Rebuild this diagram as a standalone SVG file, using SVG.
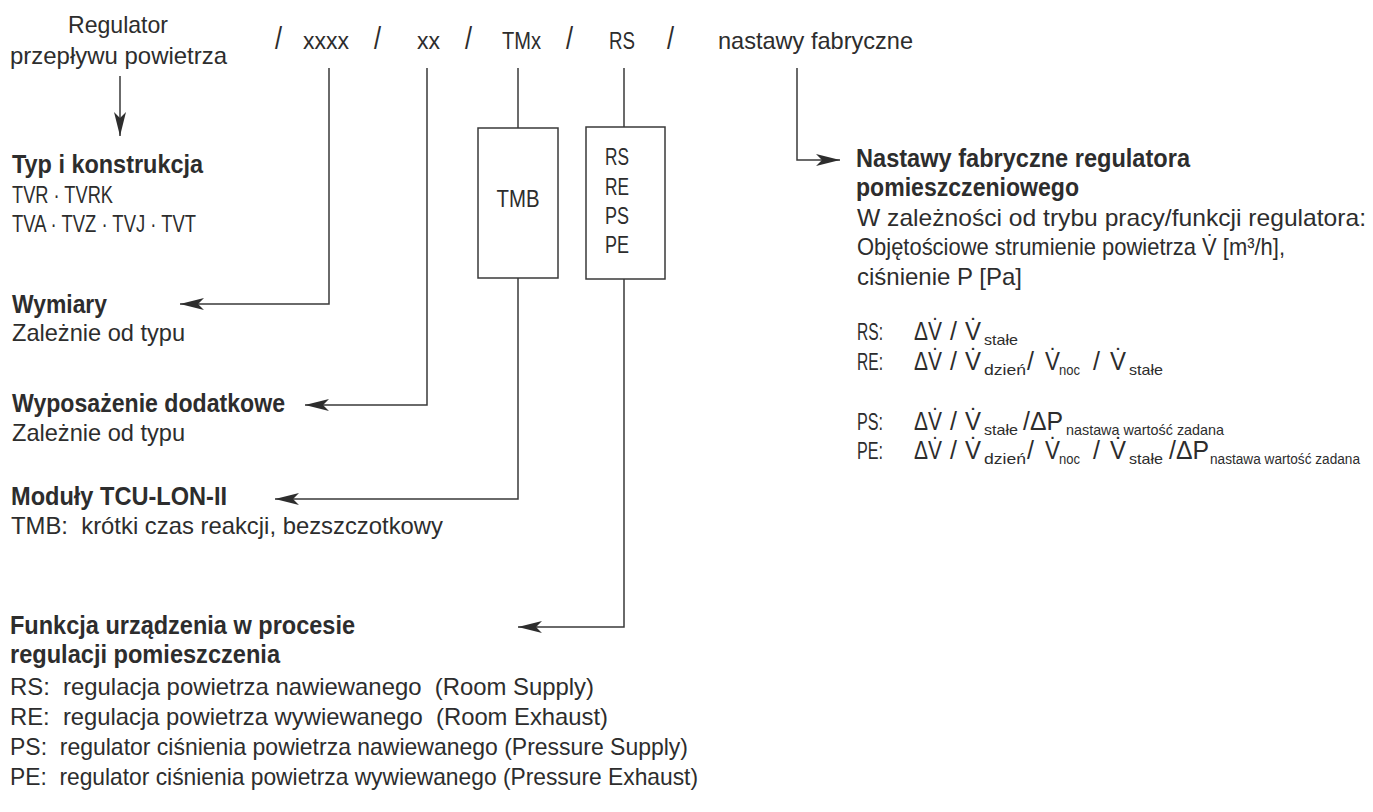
<svg xmlns="http://www.w3.org/2000/svg" width="1373" height="812" viewBox="0 0 1373 812">
  <defs>
    <style>
      .t { font-family: "Liberation Sans", Arial, "DejaVu Sans", sans-serif; font-size: 24px; fill: #2d2d2d; white-space: pre; }
      .b { font-weight: bold; font-size: 25px; }
      .f { font-size: 25px; }
      .s { font-size: 15px; }
      .xs { font-size: 14px; }
      .sl { font-size: 22px; }
      .box { fill: #ffffff; stroke: #3a3a3a; stroke-width: 1.5; }
      .ln { fill: none; stroke: #3a3a3a; stroke-width: 1.5; }
    </style>
    <marker id="arr" viewBox="-25 -7 26 14" refX="0" refY="0" markerWidth="26" markerHeight="14" orient="auto" markerUnits="userSpaceOnUse">
      <path d="M0,0 L-24,-6 L-18,0 L-24,6 Z" fill="#2d2d2d"/>
    </marker>
  </defs>
  <rect width="1373" height="812" fill="#ffffff"/>

  <!-- code header row -->
  <g id="header">
    <text class="t" x="118" y="33" text-anchor="middle" textLength="100" lengthAdjust="spacingAndGlyphs">Regulator</text>
    <text class="t" x="10" y="64" textLength="217" lengthAdjust="spacingAndGlyphs">przepływu powietrza</text>
    <text class="t sl" transform="translate(275,49) scale(1.15,1.45)">/</text>
    <text class="t" x="303" y="49" textLength="46" lengthAdjust="spacingAndGlyphs">xxxx</text>
    <text class="t sl" transform="translate(374,49) scale(1.15,1.45)">/</text>
    <text class="t" x="417" y="49" textLength="23" lengthAdjust="spacingAndGlyphs">xx</text>
    <text class="t sl" transform="translate(465,49) scale(1.15,1.45)">/</text>
    <text class="t" x="502" y="49" textLength="39" lengthAdjust="spacingAndGlyphs">TMx</text>
    <text class="t sl" transform="translate(566,49) scale(1.15,1.45)">/</text>
    <text class="t" x="609" y="49" textLength="26" lengthAdjust="spacingAndGlyphs">RS</text>
    <text class="t sl" transform="translate(667,49) scale(1.15,1.45)">/</text>
    <text class="t" x="718" y="49" textLength="195" lengthAdjust="spacingAndGlyphs">nastawy fabryczne</text>
  </g>

  <!-- module boxes -->
  <g id="box-tmb">
    <rect class="box" x="478" y="128" width="80" height="150"/>
    <text class="t" x="518" y="207" text-anchor="middle" textLength="43" lengthAdjust="spacingAndGlyphs">TMB</text>
  </g>
  <g id="box-rs">
    <rect class="box" x="586" y="127" width="79" height="152"/>
    <text class="t" x="605" y="165" textLength="24" lengthAdjust="spacingAndGlyphs">RS</text>
    <text class="t" x="605" y="195" textLength="24" lengthAdjust="spacingAndGlyphs">RE</text>
    <text class="t" x="605" y="224" textLength="24" lengthAdjust="spacingAndGlyphs">PS</text>
    <text class="t" x="605" y="253" textLength="24" lengthAdjust="spacingAndGlyphs">PE</text>
  </g>

  <!-- connectors -->
  <g id="connectors">
    <path class="ln" d="M120,76 V136" marker-end="url(#arr)"/>
    <path class="ln" d="M329,68 V304 H180" marker-end="url(#arr)"/>
    <path class="ln" d="M427,68 V405 H305" marker-end="url(#arr)"/>
    <path class="ln" d="M518,68 V128"/>
    <path class="ln" d="M518,278 V499 H275" marker-end="url(#arr)"/>
    <path class="ln" d="M624,68 V127"/>
    <path class="ln" d="M624,279 V627 H518" marker-end="url(#arr)"/>
    <path class="ln" d="M797,68 V160 H840" marker-end="url(#arr)"/>
  </g>

  <!-- type and construction -->
  <g id="typ">
    <text class="t b" x="12" y="173" textLength="191" lengthAdjust="spacingAndGlyphs">Typ i konstrukcja</text>
    <text class="t" x="12" y="203" textLength="101" lengthAdjust="spacingAndGlyphs">TVR · TVRK</text>
    <text class="t" x="12" y="232" textLength="184" lengthAdjust="spacingAndGlyphs">TVA · TVZ · TVJ · TVT</text>
  </g>

  <g id="wymiary">
    <text class="t b" x="12" y="313" textLength="95" lengthAdjust="spacingAndGlyphs">Wymiary</text>
    <text class="t" x="12" y="341" textLength="173" lengthAdjust="spacingAndGlyphs">Zależnie od typu</text>
  </g>

  <g id="wyposazenie">
    <text class="t b" x="12" y="412" textLength="273" lengthAdjust="spacingAndGlyphs">Wyposażenie dodatkowe</text>
    <text class="t" x="12" y="441" textLength="173" lengthAdjust="spacingAndGlyphs">Zależnie od typu</text>
  </g>

  <g id="moduly">
    <text class="t b" x="11" y="505" textLength="216" lengthAdjust="spacingAndGlyphs">Moduły TCU-LON-II</text>
    <text class="t" x="11" y="534" textLength="432" lengthAdjust="spacingAndGlyphs">TMB:  krótki czas reakcji, bezszczotkowy</text>
  </g>

  <g id="funkcja">
    <text class="t b" x="10" y="634" textLength="345" lengthAdjust="spacingAndGlyphs">Funkcja urządzenia w procesie</text>
    <text class="t b" x="10" y="663" textLength="270" lengthAdjust="spacingAndGlyphs">regulacji pomieszczenia</text>
    <text class="t" x="10" y="695" textLength="584" lengthAdjust="spacingAndGlyphs">RS:  regulacja powietrza nawiewanego  (Room Supply)</text>
    <text class="t" x="10" y="725" textLength="598" lengthAdjust="spacingAndGlyphs">RE:  regulacja powietrza wywiewanego  (Room Exhaust)</text>
    <text class="t" x="10" y="755" textLength="678" lengthAdjust="spacingAndGlyphs">PS:  regulator ciśnienia powietrza nawiewanego (Pressure Supply)</text>
    <text class="t" x="10" y="785" textLength="688" lengthAdjust="spacingAndGlyphs">PE:  regulator ciśnienia powietrza wywiewanego (Pressure Exhaust)</text>
  </g>

  <!-- factory settings -->
  <g id="nastawy">
    <text class="t b" x="856" y="167" textLength="334" lengthAdjust="spacingAndGlyphs">Nastawy fabryczne regulatora</text>
    <text class="t b" x="856" y="196" textLength="223" lengthAdjust="spacingAndGlyphs">pomieszczeniowego</text>
    <text class="t" x="857" y="226" textLength="509" lengthAdjust="spacingAndGlyphs">W zależności od trybu pracy/funkcji regulatora:</text>
    <text class="t" x="857" y="255" textLength="428" lengthAdjust="spacingAndGlyphs">Objętościowe strumienie powietrza V̇ [m³/h],</text>
    <text class="t" x="857" y="285" textLength="165" lengthAdjust="spacingAndGlyphs">ciśnienie P [Pa]</text>

    <!-- RS row -->
    <text class="t" x="857" y="340" textLength="26" lengthAdjust="spacingAndGlyphs">RS:</text>
    <text class="t f" x="914" y="340" textLength="28" lengthAdjust="spacingAndGlyphs">ΔV̇</text>
    <text class="t f" x="950" y="340">/</text>
    <text class="t f" x="965" y="340" textLength="16" lengthAdjust="spacingAndGlyphs">V̇</text>
    <text class="t s" x="984" y="345" textLength="34" lengthAdjust="spacingAndGlyphs">stałe</text>

    <!-- RE row -->
    <text class="t" x="857" y="370" textLength="26" lengthAdjust="spacingAndGlyphs">RE:</text>
    <text class="t f" x="914" y="370" textLength="28" lengthAdjust="spacingAndGlyphs">ΔV̇</text>
    <text class="t f" x="950" y="370">/</text>
    <text class="t f" x="965" y="370" textLength="16" lengthAdjust="spacingAndGlyphs">V̇</text>
    <text class="t s" x="984" y="375" textLength="42" lengthAdjust="spacingAndGlyphs">dzień</text>
    <text class="t f" x="1027" y="370">/</text>
    <text class="t f" x="1045" y="370" textLength="15" lengthAdjust="spacingAndGlyphs">V̇</text>
    <text class="t s" x="1059" y="375" textLength="21" lengthAdjust="spacingAndGlyphs">noc</text>
    <text class="t f" x="1093" y="370">/</text>
    <text class="t f" x="1110" y="370" textLength="16" lengthAdjust="spacingAndGlyphs">V̇</text>
    <text class="t s" x="1129" y="375" textLength="34" lengthAdjust="spacingAndGlyphs">stałe</text>

    <!-- PS row -->
    <text class="t" x="857" y="430" textLength="26" lengthAdjust="spacingAndGlyphs">PS:</text>
    <text class="t f" x="914" y="430" textLength="28" lengthAdjust="spacingAndGlyphs">ΔV̇</text>
    <text class="t f" x="950" y="430">/</text>
    <text class="t f" x="965" y="430" textLength="16" lengthAdjust="spacingAndGlyphs">V̇</text>
    <text class="t s" x="984" y="435" textLength="34" lengthAdjust="spacingAndGlyphs">stałe</text>
    <text class="t f" x="1023" y="430" textLength="40" lengthAdjust="spacingAndGlyphs">/ΔP</text>
    <text class="t s" x="1066" y="435" textLength="158" lengthAdjust="spacingAndGlyphs">nastawa wartość zadana</text>

    <!-- PE row -->
    <text class="t" x="857" y="459" textLength="26" lengthAdjust="spacingAndGlyphs">PE:</text>
    <text class="t f" x="914" y="459" textLength="28" lengthAdjust="spacingAndGlyphs">ΔV̇</text>
    <text class="t f" x="950" y="459">/</text>
    <text class="t f" x="965" y="459" textLength="16" lengthAdjust="spacingAndGlyphs">V̇</text>
    <text class="t s" x="984" y="464" textLength="42" lengthAdjust="spacingAndGlyphs">dzień</text>
    <text class="t f" x="1027" y="459">/</text>
    <text class="t f" x="1045" y="459" textLength="15" lengthAdjust="spacingAndGlyphs">V̇</text>
    <text class="t s" x="1059" y="464" textLength="21" lengthAdjust="spacingAndGlyphs">noc</text>
    <text class="t f" x="1093" y="459">/</text>
    <text class="t f" x="1110" y="459" textLength="16" lengthAdjust="spacingAndGlyphs">V̇</text>
    <text class="t s" x="1129" y="464" textLength="34" lengthAdjust="spacingAndGlyphs">stałe</text>
    <text class="t f" x="1169" y="459" textLength="40" lengthAdjust="spacingAndGlyphs">/ΔP</text>
    <text class="t xs" x="1210" y="464" textLength="150" lengthAdjust="spacingAndGlyphs">nastawa wartość zadana</text>
  </g>
</svg>
